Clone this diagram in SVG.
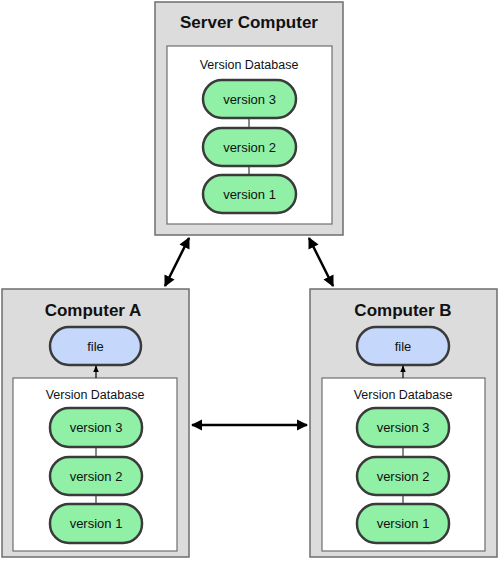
<svg xmlns="http://www.w3.org/2000/svg" width="499" height="562" viewBox="0 0 499 562">
<defs>
<style>
.outer{fill:#dcdcdc;stroke:#6e6e6e;stroke-width:1.5}
.inner{fill:#ffffff;stroke:#6e6e6e;stroke-width:1.2}
.ver{fill:#8ff0a6;stroke:#3a3a3a;stroke-width:2.5}
.file{fill:#c5d8fb;stroke:#3a3a3a;stroke-width:2.5}
.title{font-family:"Liberation Sans",Arial,sans-serif;font-weight:bold;font-size:17px;fill:#111;text-anchor:middle}
.db{font-family:"Liberation Sans",Arial,sans-serif;font-size:12.5px;fill:#111;text-anchor:middle}
.lbl{font-family:"Liberation Sans",Arial,sans-serif;font-size:13px;fill:#111;text-anchor:middle}
.link{stroke:#3a3a3a;stroke-width:1.2}
.conn{stroke:#000;stroke-width:2.5;fill:none}
.small{stroke:#000;stroke-width:1.2;fill:none}
</style>
<marker id="ah" viewBox="0 0 10 10" refX="9" refY="5" markerWidth="4.5" markerHeight="4.5" orient="auto-start-reverse" markerUnits="strokeWidth"><path d="M0,0 L10,5 L0,10 Z" fill="#000"/></marker>
<marker id="ahs" viewBox="0 0 10 10" refX="9" refY="5" markerWidth="6" markerHeight="6" orient="auto" markerUnits="strokeWidth"><path d="M0,1 L10,5 L0,9 Z" fill="#000"/></marker>
</defs>

<g id="server">
<rect class="outer" x="155" y="2" width="188" height="233"/>
<text class="title" x="249" y="28">Server Computer</text>
<rect class="inner" x="167" y="46" width="165" height="178"/>
<text class="db" x="249" y="69">Version Database</text>
<line class="link" x1="249" y1="118" x2="249" y2="128"/>
<line class="link" x1="249" y1="166" x2="249" y2="175"/>
<g id="server-v3"><rect class="ver" x="203" y="80" width="93" height="38" rx="19"/><text class="lbl" x="249.5" y="104">version 3</text></g>
<g id="server-v2"><rect class="ver" x="203" y="128" width="93" height="38" rx="19"/><text class="lbl" x="249.5" y="152">version 2</text></g>
<g id="server-v1"><rect class="ver" x="203" y="175" width="93" height="38" rx="19"/><text class="lbl" x="249.5" y="199">version 1</text></g>
</g>

<g id="computerA">
<rect class="outer" x="2" y="289" width="187" height="268"/>
<text class="title" x="93" y="316">Computer A</text>
<rect class="inner" x="13" y="378" width="164" height="173"/>
<text class="db" x="95" y="399">Version Database</text>
<line class="link" x1="96" y1="447" x2="96" y2="457"/>
<line class="link" x1="96" y1="495" x2="96" y2="504"/>
<g id="A-file"><rect class="file" x="50" y="327" width="91" height="38" rx="19"/><text class="lbl" x="95.5" y="351">file</text></g>
<g id="A-v3"><rect class="ver" x="50" y="408" width="92" height="39" rx="19"/><text class="lbl" x="96" y="432">version 3</text></g>
<g id="A-v2"><rect class="ver" x="50" y="457" width="92" height="38" rx="19"/><text class="lbl" x="96" y="481">version 2</text></g>
<g id="A-v1"><rect class="ver" x="50" y="504" width="92" height="39" rx="19"/><text class="lbl" x="96" y="528">version 1</text></g>
</g>

<g id="computerB">
<rect class="outer" x="310" y="289" width="187" height="268"/>
<text class="title" x="403" y="316">Computer B</text>
<rect class="inner" x="322" y="378" width="163" height="173"/>
<text class="db" x="403" y="399">Version Database</text>
<line class="link" x1="403" y1="447" x2="403" y2="457"/>
<line class="link" x1="403" y1="495" x2="403" y2="504"/>
<g id="B-file"><rect class="file" x="357" y="327" width="92" height="38" rx="19"/><text class="lbl" x="403" y="351">file</text></g>
<g id="B-v3"><rect class="ver" x="357" y="408" width="92" height="39" rx="19"/><text class="lbl" x="403" y="432">version 3</text></g>
<g id="B-v2"><rect class="ver" x="357" y="457" width="92" height="38" rx="19"/><text class="lbl" x="403" y="481">version 2</text></g>
<g id="B-v1"><rect class="ver" x="357" y="504" width="92" height="39" rx="19"/><text class="lbl" x="403" y="528">version 1</text></g>
</g>

<g id="connectors">
<line class="conn" x1="189" y1="238" x2="165" y2="286" marker-start="url(#ah)" marker-end="url(#ah)"/>
<line class="conn" x1="309" y1="238" x2="333" y2="286" marker-start="url(#ah)" marker-end="url(#ah)"/>
<line class="conn" x1="192" y1="425" x2="307" y2="425" marker-start="url(#ah)" marker-end="url(#ah)"/>
<line class="small" x1="96" y1="378" x2="96" y2="366" marker-end="url(#ahs)"/>
<line class="small" x1="403" y1="378" x2="403" y2="366" marker-end="url(#ahs)"/>
</g>
</svg>
